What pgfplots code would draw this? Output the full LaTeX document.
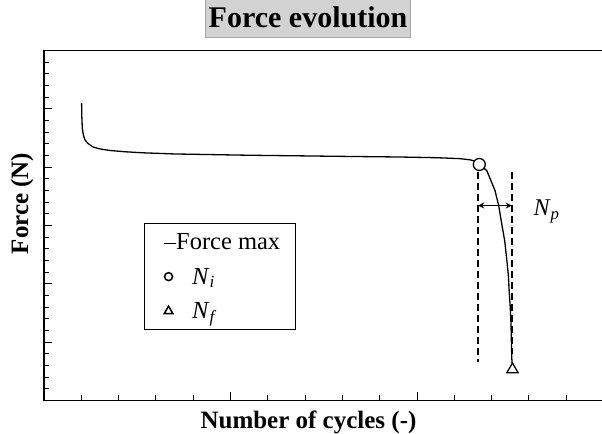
\documentclass[border=0pt]{standalone}
\usepackage{fontspec}
\setmainfont{Liberation Serif}
\usepackage{pgfplots}
\pgfplotsset{compat=1.18}
\usetikzlibrary{arrows.meta}
\begin{document}
\begin{tikzpicture}
\begin{axis}[
  at={(0pt,0pt)}, anchor=south west,
  x=37.3pt, y=11.6667pt,
  xmin=0, xmax=16, ymin=0, ymax=30,
  axis line style={line width=1.3pt},
  xtick={0,5,10,15}, ytick={0,5,...,30},
  minor x tick num=4, minor y tick num=4,
  xticklabels={}, yticklabels={},
  tick align=inside, xtick pos=bottom, ytick pos=left,
  major tick length=8pt, minor tick length=5pt,
  major tick style={black, line width=1pt},
  minor tick style={black, line width=1pt},
  clip=false,
  title={Force evolution},
  title style={at={(axis description cs:0.4424,1.0771)}, anchor=center,
    draw=gray!70, fill=gray!35, line width=1pt, minimum width=205pt,
    minimum height=39pt, inner sep=0pt,
    font=\fontsize{30}{34}\selectfont\bfseries},
  xlabel={Number of cycles (-)},
  xlabel style={at={(axis description cs:0.4432,-0.08)}, anchor=base,
    font=\fontsize{25}{29}\selectfont\bfseries},
  ylabel={Force (N)},
  ylabel style={at={(axis description cs:-0.0268,0.5629)}, anchor=base,
    rotate=0, font=\fontsize{25}{29}\selectfont\bfseries},
  legend style={at={(axis description cs:0.1676,0.5066)}, anchor=north west,
    draw=black, line width=0.9pt, fill=white,
    font=\fontsize{24.5}{29}\selectfont,
    inner xsep=19pt, inner ysep=8pt, row sep=13.5pt,
    nodes={inner sep=0pt, text height=18pt, text depth=3pt},
    cells={anchor=west},
    /tikz/every odd column/.append style={column sep=18.5pt}},
]
\addplot[black, line width=1.3pt, legend image code/.code={}] coordinates {
(1.008,25.48) (1.013,24.43) (1.027,23.31) (1.059,22.71) (1.099,22.33)
(1.180,22.03) (1.314,21.73) (1.501,21.56) (1.769,21.43) (2.172,21.32)
(2.654,21.23) (3.512,21.13) (4.263,21.09) (5.523,21.02) (6.863,20.97)
(7.855,20.93) (9.544,20.87) (10.54,20.81) (11.15,20.73) (11.42,20.63)
(11.58,20.49) (11.67,20.23) (11.87,19.71) (11.98,18.86) (12.09,18.00)
(12.19,16.71) (12.27,15.17) (12.35,13.71) (12.40,12.28) (12.45,10.71)
(12.47,9.43) (12.50,7.97) (12.52,6.60) (12.53,5.14) (12.54,3.71)
(12.55,3.17)
};
\addlegendentry{\makebox[84pt][l]{\hspace{-28pt}\rule[6pt]{12pt}{1.1pt}Force max}}
\addplot[only marks, mark=*, mark size=6pt,
  mark options={draw=black, fill=white, line width=1.3pt},
  legend image code/.code={\draw[line width=1.5pt] (0pt,0pt) circle (4pt);}]
  coordinates {(11.67,20.23)};
\addlegendentry{\textit{N}\textsubscript{\textit{i}}}
\addplot[only marks, mark=triangle, mark size=6.5pt,
  mark options={draw=black, fill=white, line width=1.3pt},
  legend image code/.code={\draw[line width=1.5pt] (90:5pt) -- (210:5pt) -- (330:5pt) -- cycle;}]
  coordinates {(12.56,2.66)};
\addlegendentry{\textit{N}\textsubscript{\textit{f}}}
\addplot[forget plot, black, line width=1.6pt, dash pattern=on 7pt off 4pt]
  coordinates {(11.64,19.57) (11.64,3.28)};
\addplot[forget plot, black, line width=1.6pt, dash pattern=on 7pt off 4pt]
  coordinates {(12.54,19.57) (12.54,4.0)};
\addplot[forget plot, black, line width=1.2pt,
  {Stealth[length=6pt,width=6pt]}-{Stealth[length=6pt,width=6pt]}]
  coordinates {(11.64,16.71) (12.54,16.71)};
\node[anchor=base west, font=\fontsize{24}{28}\selectfont]
  at (axis cs:13.03,15.86) {\textit{N}\textsubscript{\textit{p}}};
\end{axis}
\pgfresetboundingbox
\path[use as bounding box] (-44pt,-33pt) rectangle (558pt,400.5pt);
\end{tikzpicture}
\end{document}
